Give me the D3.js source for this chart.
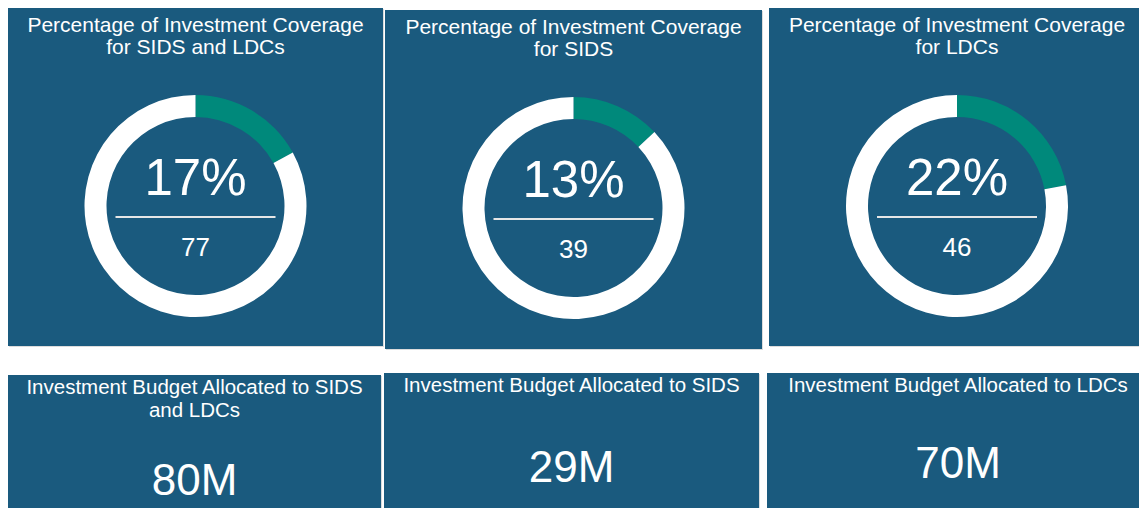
<!DOCTYPE html>
<html>
<head>
<meta charset="utf-8">
<script src="https://cdn.jsdelivr.net/npm/d3@7"></script>
<style>
body { margin:0; background:#fff; }
svg { display:block; font-family:"Liberation Sans", Arial, sans-serif; }
</style>
</head>
<body>
<svg width="1139" height="508"></svg>
<script>
// data
var coverageTitles = [
	["Percentage of Investment Coverage", "for SIDS and LDCs"],
	["Percentage of Investment Coverage", "for SIDS"],
	["Percentage of Investment Coverage", "for LDCs"]
];
var coveragePct = [17, 13, 22];
var coverageCount = [77, 39, 46];

var budgetTitles = [
	["Investment Budget Allocated to SIDS", "and LDCs"],
	["Investment Budget Allocated to SIDS"],
	["Investment Budget Allocated to LDCs"]
];
var budgetValues = [80, 29, 70];

// layout
var topPanels = [
	{x:8, y:8, w:375, h:338},
	{x:385, y:10, w:377, h:339},
	{x:769, y:8, w:380, h:338}
];
var bottomPanels = [
	{x:8, y:375, w:373, h:140},
	{x:384, y:373, w:375, h:140},
	{x:767, y:373, w:382, h:140}
];

var blue = "#1a5a7e", teal = "#00897b";
var svg = d3.select("svg");

var pie = d3.pie().sort(null).value(function(d){ return d; });
var arc = d3.arc().innerRadius(89).outerRadius(111);
var fmtM = function(v){ return d3.format("d")(v) + "M"; };

function panel(p){
	svg.append("rect")
		.attr("x", p.x + 1).attr("y", p.y + 1)
		.attr("width", p.w).attr("height", p.h)
		.attr("fill", "#dcdcdc");
	var g = svg.append("g").attr("transform", "translate(" + p.x + "," + p.y + ")");
	g.append("rect")
		.attr("width", p.w).attr("height", p.h)
		.attr("fill", blue);
	return g;
}

topPanels.forEach(function(p, i){
	var g = panel(p);
	var cx = i == 2 ? 188 : p.w / 2;

	g.append("text")
		.attr("text-anchor", "middle")
		.attr("fill", "#fff")
		.attr("font-size", 21)
		.selectAll("tspan")
		.data(coverageTitles[i])
		.join("tspan")
		.attr("x", cx)
		.attr("y", function(d, j){ return 24 + j * 22; })
		.text(function(d){ return d; });

	var donut = g.append("g").attr("transform", "translate(" + cx + ",198)");
	donut.selectAll("path")
		.data(pie([coveragePct[i], 100 - coveragePct[i]]))
		.join("path")
		.attr("d", arc)
		.attr("fill", function(d, j){ return j == 0 ? teal : "#fff"; });

	donut.append("text")
		.attr("text-anchor", "middle")
		.attr("y", -11)
		.attr("fill", "#fff")
		.attr("font-size", 51)
		.text(coveragePct[i] + "%");

	donut.append("line")
		.attr("x1", -80).attr("x2", 80)
		.attr("y1", 11).attr("y2", 11)
		.attr("stroke", "#e6e6e6")
		.attr("stroke-width", 2);

	donut.append("text")
		.attr("text-anchor", "middle")
		.attr("y", 50)
		.attr("fill", "#fff")
		.attr("font-size", 26)
		.text(coverageCount[i]);
});

bottomPanels.forEach(function(p, i){
	var g = panel(p);
	var cx = i == 2 ? 191 : p.w / 2;

	g.append("text")
		.attr("text-anchor", "middle")
		.attr("fill", "#fff")
		.attr("font-size", 20.5)
		.selectAll("tspan")
		.data(budgetTitles[i])
		.join("tspan")
		.attr("x", cx)
		.attr("y", function(d, j){ return 19 + j * 23; })
		.text(function(d){ return d; });

	g.append("text")
		.attr("text-anchor", "middle")
		.attr("x", cx)
		.attr("y", [120, 109, 105][i])
		.attr("fill", "#fff")
		.attr("font-size", 44)
		.text(fmtM(budgetValues[i]));
});
</script>
</body>
</html>
